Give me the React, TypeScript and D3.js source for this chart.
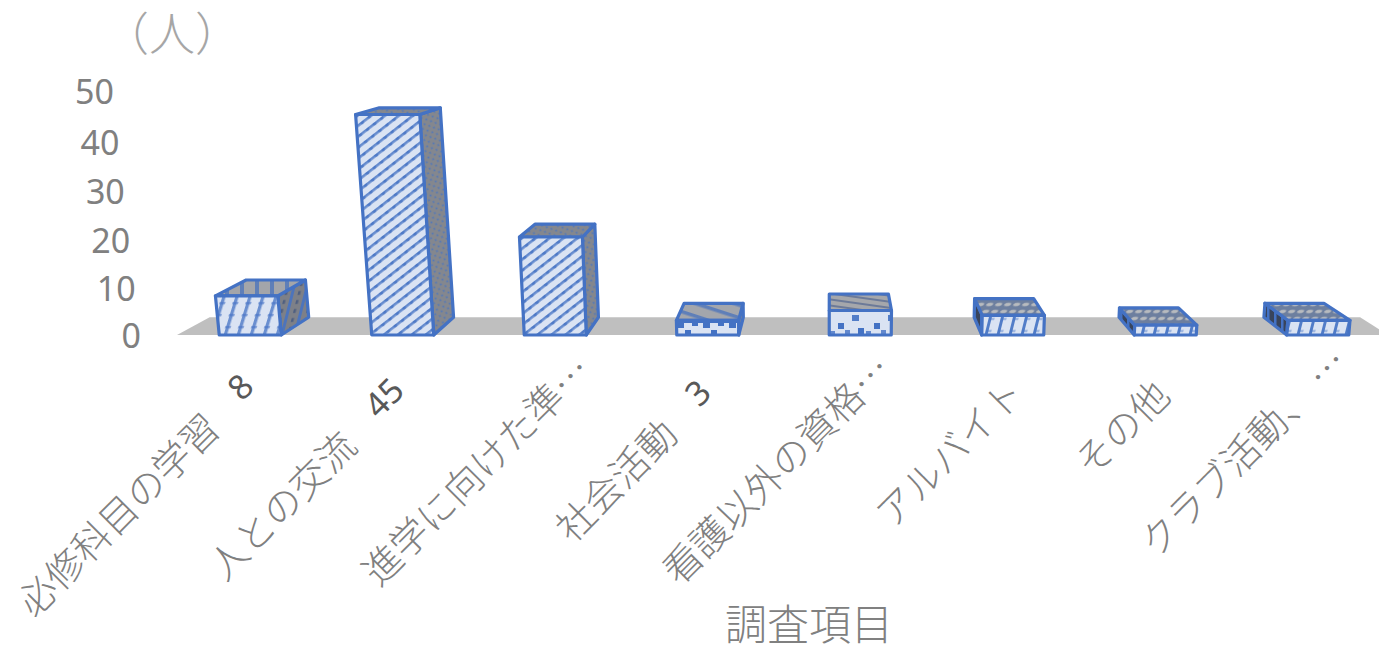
import React from "react";
import * as d3 from "d3";

// Survey results: category labels, respondent counts, and axis ticks.
const categories = [
  "必修科目の学習",
  "人との交流",
  "進学に向けた準…",
  "社会活動",
  "看護以外の資格…",
  "アルバイト",
  "その他",
  "クラブ活動、 …",
];
const counts = [8, 45, 20, 3, 5, 4, 2, 3];
const statedCounts = ["8", "45", "", "3", "", "", "", ""];
const axisTicks = [0, 10, 20, 30, 40, 50];

const WIDTH = 1379;
const HEIGHT = 646;
const BLUE = "#4472c4";
const PALE = "#dae3f3";
const TEXT = "#808080";
const FONT = '"Noto Sans CJK JP", "Noto Sans", sans-serif';
const LATIN = '"Noto Sans", "Open Sans", sans-serif';

const xBand = d3.scaleBand<number>().domain(d3.range(categories.length)).range([174, 1394]);
const yHeight = d3.scaleLinear().domain([0, 50]).range([0, 245]);
const BAR_WIDTH = 62;
const BASE_Y = 335;

// Perspective camera: depth lines meet at one vanishing point, verticals fan out slowly.
const VP_X = 830;
const VP_Y = -20;
const FAN = 0.00016;
const DEPTH = 0.05;

function project(x: number, value: number, depth: number): [number, number] {
  const h = yHeight(value);
  const px = VP_X + (x - VP_X) * (1 + h * FAN);
  const py = BASE_Y - h;
  return [px + (VP_X - px) * DEPTH * depth, py + (VP_Y - py) * DEPTH * depth];
}

const poly = (pts: [number, number][]) => d3.line()(pts)! + "Z";

// Hatch used on each bar's front face: stripes, steps, sparse squares or short dashes.
function FrontPattern({ id, kind }: { id: string; kind: string }) {
  if (kind === "wide") {
    return (
      <pattern id={id} width={13} height={12} patternUnits="userSpaceOnUse" patternTransform="skewX(-17)">
        <rect width={13} height={12} fill={PALE} />
        <rect x={1} width={3.4} height={12} fill={BLUE} opacity={0.75} />
        <rect x={0} y={2} width={6} height={2.2} fill={BLUE} opacity={0.6} />
      </pattern>
    );
  }
  if (kind === "fine") {
    return (
      <pattern id={id} width={9} height={8.6} patternUnits="userSpaceOnUse" patternTransform="rotate(-38)">
        <rect width={9} height={8.6} fill={PALE} />
        <rect width={9} height={2.6} fill={BLUE} opacity={0.78} />
        <circle cx={3} cy={1.3} r={1.9} fill={BLUE} opacity={0.7} />
      </pattern>
    );
  }
  if (kind === "steps") {
    return (
      <pattern id={id} width={26} height={15} patternUnits="userSpaceOnUse" patternTransform="translate(677 321)">
        <rect width={26} height={15} fill={PALE} />
        <rect width={26} height={2} fill={BLUE} />
        <rect y={2} width={7} height={5} fill={BLUE} />
        <rect x={15} y={2} width={6} height={3} fill={BLUE} />
        <rect x={8} y={9} width={6} height={6} fill={BLUE} />
      </pattern>
    );
  }
  if (kind === "squares") {
    return (
      <pattern id={id} width={36} height={24} patternUnits="userSpaceOnUse" patternTransform="translate(828 312)">
        <rect width={36} height={24} fill={PALE} />
        <rect x={10} y={11} width={6} height={6} fill={BLUE} />
        <rect x={24} y={3} width={7} height={6} fill={BLUE} opacity={0.9} />
        <rect x={30} y={16} width={6} height={6} fill={BLUE} />
        <rect x={17} y={18} width={5} height={4} fill={BLUE} opacity={0.8} />
        <rect x={2} y={19} width={5} height={4} fill={BLUE} opacity={0.8} />
      </pattern>
    );
  }
  return (
    <pattern id={id} width={12} height={12} patternUnits="userSpaceOnUse" patternTransform="skewX(-14)">
      <rect width={12} height={12} fill={PALE} />
      <rect x={0} width={3} height={12} fill={BLUE} opacity={0.9} />
      <rect x={0} y={6} width={6} height={2} fill={BLUE} opacity={0.5} />
    </pattern>
  );
}

const frontKinds = ["wide", "fine", "fine", "steps", "squares", "dash", "dash", "dash"];
const labelDx = [-15, -17, 14, -15, 9, -11, -18, 8];
const labelRise = [8, 4, 28, 2, 29, 5, 3, 36];
const tickNudge = [0, 2, 3, 3, 3, 1];

export default function App() {
  const floor: [number, number][] = [
    project(177, 0, 0),
    project(177, 0, 1),
    project(1388, 0, 1),
    project(1388, 0, 0),
  ];

  return (
    <svg
      width={WIDTH}
      height={HEIGHT}
      viewBox={`0 0 ${WIDTH} ${HEIGHT}`}
      style={{ position: "absolute", left: 0, top: 0, background: "#fff" }}
    >
      <defs>
        {categories.map((_, i) => (
          <FrontPattern key={i} id={`front-${i}`} kind={frontKinds[i]} />
        ))}
        <pattern id="side" width={5} height={5} patternUnits="userSpaceOnUse" patternTransform="rotate(20)">
          <rect width={5} height={5} fill="#84878e" />
          <circle cx={1.5} cy={1.5} r={1.1} fill={BLUE} opacity={0.75} />
        </pattern>
        <pattern id="side-wide" width={13} height={9} patternUnits="userSpaceOnUse" patternTransform="skewX(-14)">
          <rect width={13} height={9} fill="#7d8088" />
          <rect width={3} height={9} fill={BLUE} opacity={0.85} />
          <rect x={7} y={3} width={2.5} height={4} fill="#4f5f80" />
        </pattern>
        <pattern id="top-bars" width={15} height={10} patternUnits="userSpaceOnUse">
          <rect width={15} height={10} fill="#a3a5aa" />
          <rect width={4} height={10} fill="#5f7fb8" />
        </pattern>
        <pattern id="top-stripe" width={22} height={12} patternUnits="userSpaceOnUse" patternTransform="rotate(18)">
          <rect width={22} height={12} fill="#a3a6ac" />
          <rect width={22} height={3.5} fill="#5f7fb8" />
        </pattern>
        <pattern id="top-fine" width={12} height={6} patternUnits="userSpaceOnUse" patternTransform="rotate(8)">
          <rect width={12} height={6} fill="#a5a7ab" />
          <rect width={12} height={2} fill="#6c7a98" />
        </pattern>
        <pattern id="top-mesh" width={9} height={7} patternUnits="userSpaceOnUse" patternTransform="skewX(-30)">
          <rect width={9} height={7} fill="#6d7f9f" />
          <ellipse cx={4.5} cy={3.5} rx={3.2} ry={1.7} fill="#b8bbbf" />
        </pattern>
        <pattern id="side-dark" width={7} height={7} patternUnits="userSpaceOnUse">
          <rect width={7} height={7} fill="#38445c" />
          <rect width={2.5} height={7} fill={BLUE} />
        </pattern>
      </defs>

      <path d={poly(floor)} fill="#bfbfbf" />

      {axisTicks.map((t, i) => {
        const [x, y] = project(141, t, 0);
        return (
          <text key={t} x={x} y={y + 13 + tickNudge[i]} textAnchor="end" fontFamily={LATIN} fontSize={34} fill={TEXT}>
            {t}
          </text>
        );
      })}

      {counts.map((v, i) => {
        const cx = xBand(i)! + xBand.bandwidth() / 2;
        const l = cx - BAR_WIDTH / 2;
        const r = cx + BAR_WIDTH / 2;
        const front: [number, number][] = [project(l, 0, 0), project(l, v, 0), project(r, v, 0), project(r, 0, 0)];
        const top: [number, number][] = [project(l, v, 0), project(l, v, 1), project(r, v, 1), project(r, v, 0)];
        const sideX = cx < VP_X ? r : l;
        const side: [number, number][] = [
          project(sideX, 0, 0),
          project(sideX, v, 0),
          project(sideX, v, 1),
          project(sideX, 0, 1),
        ];
        const showSide = r < VP_X - 60 || l > VP_X + 60;
        const topFill =
          i >= 5 ? "url(#top-mesh)" : i === 0 ? "url(#top-bars)" : i === 3 ? "url(#top-stripe)" : i === 4 ? "url(#top-fine)" : "url(#side)";
        const sideFill = i >= 5 ? "url(#side-dark)" : i === 0 ? "url(#side-wide)" : "url(#side)";
        return (
          <g key={i} stroke={BLUE} strokeWidth={3.2} strokeLinejoin="round">
            {showSide && <path d={poly(side)} fill={sideFill} />}
            <path d={poly(top)} fill={topFill} />
            <path d={poly(front)} fill={`url(#front-${i})`} />
          </g>
        );
      })}

      {categories.map((c, i) => {
        const cx = xBand(i)! + xBand.bandwidth() / 2;
        const x = cx + labelDx[i];
        const y = 376 - labelRise[i];
        return (
          <text
            key={c}
            transform={`translate(${x},${y}) rotate(-45)`}
            textAnchor="end"
            fontFamily={FONT}
            fontWeight={300}
            fontSize={38}
            fill={TEXT}
            dominantBaseline="hanging"
          >
            {c}
            {statedCounts[i] && (
              <tspan fontFamily={LATIN} fontWeight={400} fontSize={34} fill="#595959">
                {"　" + statedCounts[i]}
              </tspan>
            )}
          </text>
        );
      })}

      <text x={172} y={50} textAnchor="middle" fontFamily={FONT} fontWeight={300} fontSize={46} fill="#a6a6a6">
        （人）
      </text>
      <text x={809} y={640} textAnchor="middle" fontFamily={FONT} fontWeight={300} fontSize={42} fill={TEXT}>
        調査項目
      </text>
    </svg>
  );
}
